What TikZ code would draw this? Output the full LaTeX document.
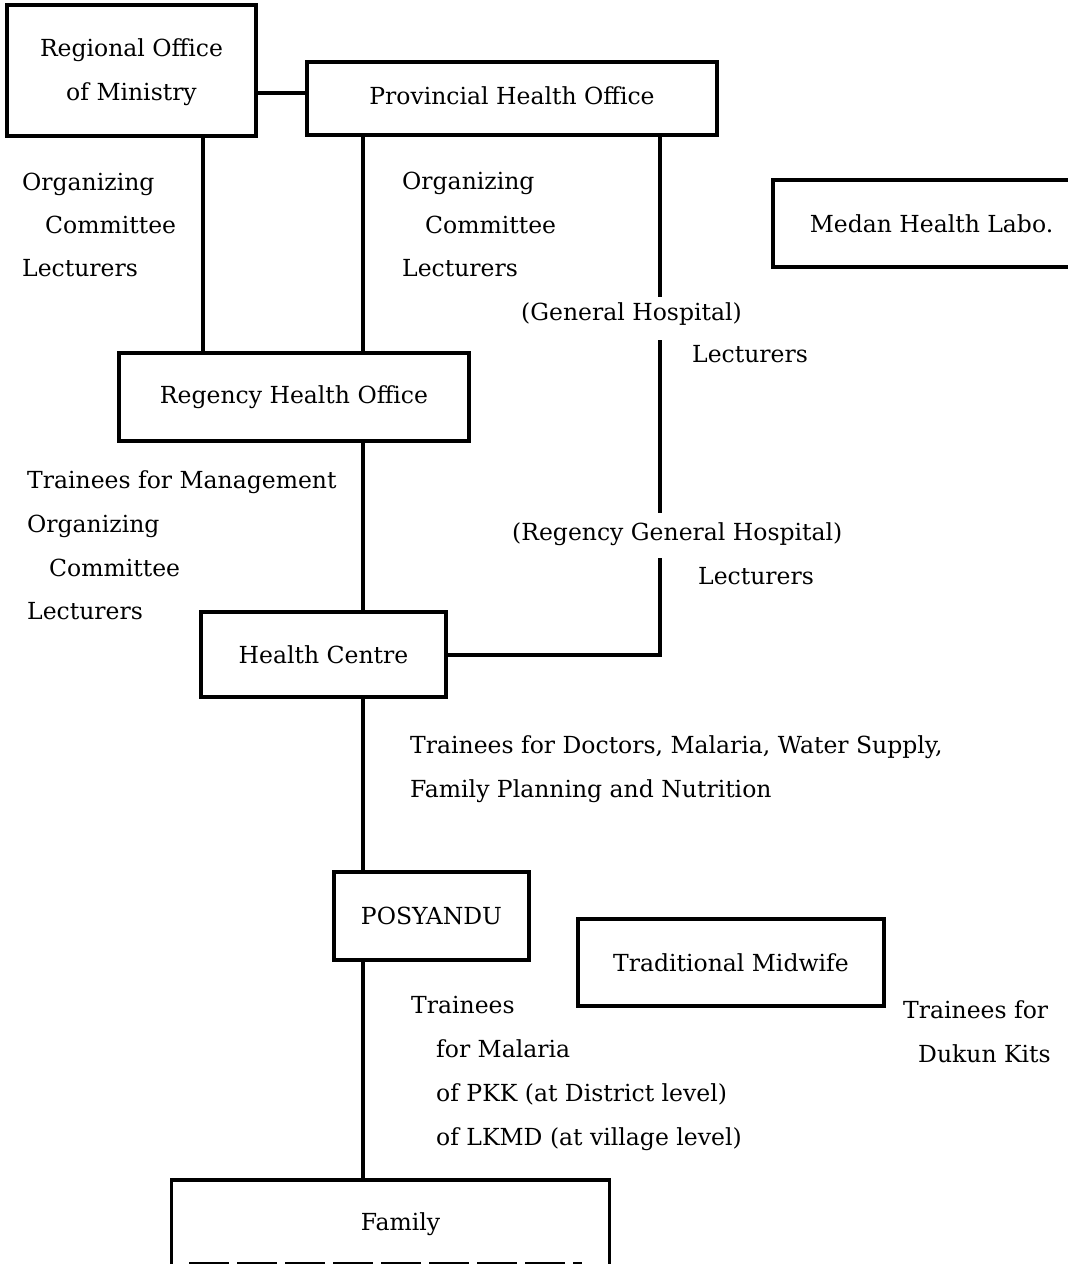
\documentclass[tikz,border=0pt]{standalone}
\usepackage{fontspec}
\setmainfont{DejaVu Serif}
\begin{document}
\begin{tikzpicture}[x=1pt,y=-1pt,
  box/.style={draw, line width=3.2pt, rectangle, inner sep=0pt, align=center,
              font=\fontsize{23.5}{44}\selectfont},
  lbl/.style={anchor=mid west, inner sep=0pt, font=\fontsize{23.5}{28}\selectfont},
  link/.style={line width=3.2pt}]
\useasboundingbox (0,0) rectangle (1068,1264);
\clip (0,0) rectangle (1068,1264);

% offices and units
\node[box, minimum width=249pt, minimum height=131pt] (reg) at (131.5,70.5)
  {\raisebox{-7.5pt}[0pt][0pt]{Regional Office}\\\raisebox{-7.5pt}[0pt][0pt]{of Ministry}};
\node[box, minimum width=410pt, minimum height=73pt] (prov) at (512,98.5)
  {\raisebox{5pt}{Provincial Health Office}};
\node[box, minimum width=317pt, minimum height=87pt] (lab) at (931.5,223.5)
  {Medan Health Labo.};
\node[box, minimum width=350pt, minimum height=88pt] (rho) at (294,397)
  {\raisebox{-2pt}{Regency Health Office}};
\node[box, minimum width=245pt, minimum height=85pt] (hc) at (323.5,654.5)
  {Health Centre};
\node[box, minimum width=195pt, minimum height=88pt] (pos) at (431.5,916)
  {POSYANDU};
\node[box, minimum width=306pt, minimum height=87pt] (mid) at (731,962.5)
  {Traditional Midwife};
\node[box, draw=none, minimum width=435pt, minimum height=86pt, anchor=north] (fam)
  at (390.5,1180) {\hspace*{20pt}Family};
\draw[link] (fam.south west) -- (fam.north west) -- (fam.north east) -- (fam.south east);
\draw[link, dash pattern=on 40pt off 8pt] ([shift={(18,-6)}]fam.south west) -- ([shift={(-28,-6)}]fam.south east);

% connectors
\draw[link] (reg.east |- 0,93) -- (prov.west |- 0,93);
\draw[link] (203,0 |- reg.south) -- (203,0 |- rho.north);
\draw[link] (363,0 |- prov.south) -- (363,0 |- rho.north);
\draw[link] (363,0 |- rho.south) -- (363,0 |- hc.north);
\draw[link] (363,0 |- hc.south) -- (363,0 |- pos.north);
\draw[link] (363,0 |- pos.south) -- (363,0 |- fam.north);

% hospital line, broken where its labels sit
\coordinate (gA) at (660,297);
\coordinate (gB) at (660,340);
\coordinate (gC) at (660,513);
\coordinate (gD) at (660,558);
\coordinate (gE) at (660,655);
\draw[link] (660,0 |- prov.south) -- (gA);
\draw[link] (gB) -- (gC);
\draw[link] (gD) -- (gE) -- (hc.east |- gE);

% labels
\node[lbl] (o1) at (22,188) {Organizing};
\node[lbl] (c1) at (45,231) {Committee};
\node[lbl] (l1) at (22,274) {Lecturers};
\node[lbl] (o2) at (402,187) {Organizing};
\node[lbl] (c2) at (425,231) {Committee};
\node[lbl] (l2) at (402,274) {Lecturers};
\node[lbl] (gh) at (521,318) {(General Hospital)};
\node[lbl] (l3) at (692,360) {Lecturers};
\node[lbl] (t1) at (27,486) {Trainees for Management};
\node[lbl] (o3) at (27,530) {Organizing};
\node[lbl] (c3) at (49,574) {Committee};
\node[lbl] (l4) at (27,617) {Lecturers};
\node[lbl] (rgh) at (512,538) {(Regency General Hospital)};
\node[lbl] (l5) at (698,582) {Lecturers};
\node[lbl] (t2) at (410,751) {Trainees for Doctors, Malaria, Water Supply,};
\node[lbl] (t3) at (410,795) {Family Planning and Nutrition};
\node[lbl] (t4) at (411,1011) {Trainees};
\node[lbl] (t5) at (436,1055) {for Malaria};
\node[lbl] (t6) at (436,1099) {of PKK (at District level)};
\node[lbl] (t7) at (436,1143) {of LKMD (at village level)};
\node[lbl] (t8) at (903,1016) {Trainees for};
\node[lbl] (t9) at (918,1060) {Dukun Kits};
\end{tikzpicture}
\end{document}
